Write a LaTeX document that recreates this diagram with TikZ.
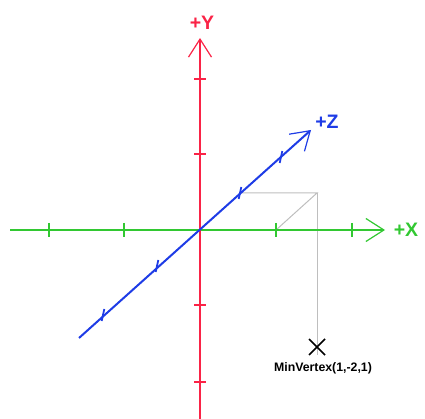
\documentclass[tikz,border=0pt]{standalone}
\usepackage{fontspec}
\setmainfont{Liberation Sans}
\usetikzlibrary{arrows.meta}
\definecolor{axred}{RGB}{250,35,70}
\definecolor{axgreen}{RGB}{50,200,50}
\definecolor{axblue}{RGB}{30,60,230}
\definecolor{guidegray}{RGB}{190,190,190}
\begin{document}
\begin{tikzpicture}[x=1pt,y=-1pt,
  axis/.style={line width=2pt},
  tip/.style={-{Straight Barb[length=18pt,width=23pt,line width=1.2pt]}},
  tickmark/.style={line width=1.8pt},
  guide/.style={draw=guidegray,line width=1pt},
  lab/.style={font=\bfseries\fontsize{19.5}{19.5}\selectfont, inner sep=0pt},
  small/.style={font=\bfseries\fontsize{12.3}{12.3}\selectfont, inner sep=0pt}]
\useasboundingbox (0,0) rectangle (425,419);
% coordinates
\coordinate (O) at (200,230);
\coordinate (xL) at (10,230);
\coordinate (xR) at (385,230);
\coordinate (yB) at (200,419);
\coordinate (yT) at (200,38);
\coordinate (zL) at (79,338);
\coordinate (zR) at (311,130);
\coordinate (z1) at (240,193);
\coordinate (c) at (317,193);
\coordinate (x1) at (276,230);
\coordinate (m) at (317,347);
% guide lines
\draw[guide] (z1) -- (c) -- (x1);
\draw[guide] (c) -- ([yshift=-8pt]m);
% axes
\draw[axis, axgreen, tip] (xL) -- (xR);
\draw[axis, axred, tip] (yB) -- (yT);
\draw[axis, axblue, tip] (zL) -- (zR);
% ticks X
\foreach \x in {49,124,276,352} \draw[tickmark, axgreen] (\x,223) -- (\x,237);
% ticks Y
\foreach \y in {79,154,305,382} \draw[tickmark, axred] (194,\y) -- (206,\y);
% ticks Z
\foreach \p in {(103,315),(157,266),(240,193),(281,157)}
  \draw[tickmark, axblue] \p ++(1.3,-6) -- ++(-2.6,12);
% labels
\node[lab, text=axred] (ly) at (202,23) {+Y};
\node[lab, text=axgreen] (lx) at (406,230) {+X};
\node[lab, text=axblue] (lz) at (327,122) {+Z};
% marker
\draw[line width=1.6pt] ([shift={(-8,-8)}]m) -- ([shift={(8,8)}]m);
\draw[line width=1.6pt] ([shift={(-8,8)}]m) -- ([shift={(8,-8)}]m);
\node[small] (lm) at (323,368) {MinVertex(1,-2,1)};
\end{tikzpicture}
\end{document}
